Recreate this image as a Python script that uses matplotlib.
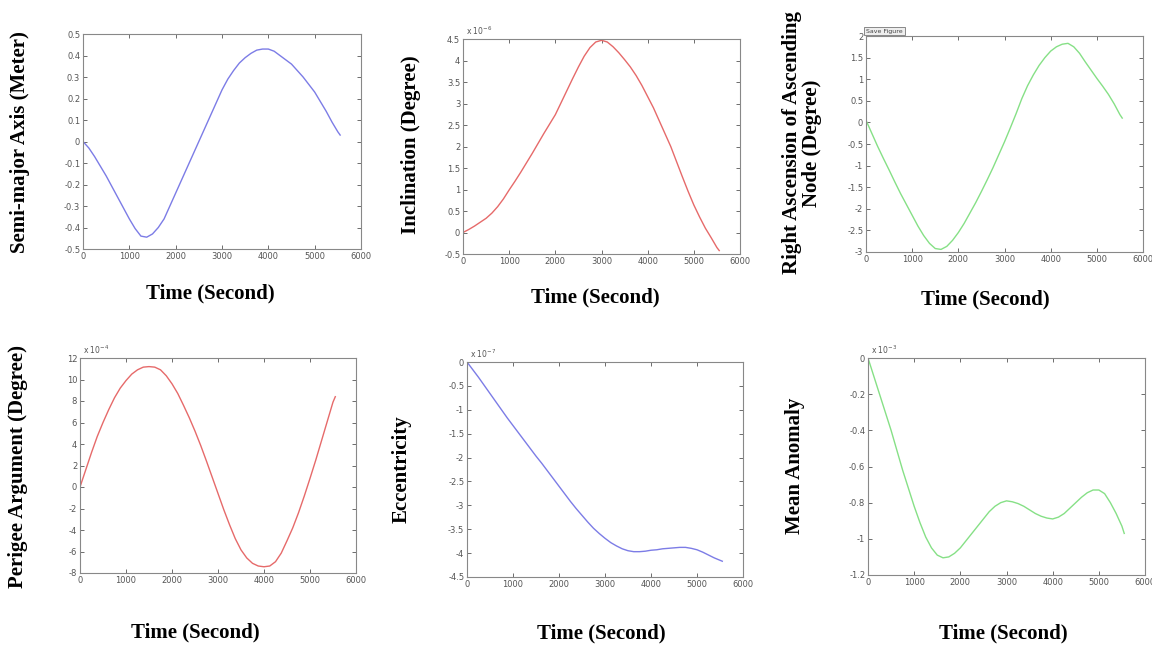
import matplotlib.pyplot as plt
from matplotlib.ticker import FuncFormatter

# time samples (s)
t = [0, 125, 250, 375, 500, 625, 750, 875, 1000, 1125, 1250, 1375, 1500, 1625, 1750, 1875,
     2000, 2125, 2250, 2375, 2500, 2625, 2750, 2875, 3000, 3125, 3250, 3375, 3500, 3625,
     3750, 3875, 4000, 4125, 4250, 4375, 4500, 4625, 4750, 4875, 5000, 5125, 5250, 5375,
     5500, 5550]

# values (already divided by the axis exponent)
semi_major = [0.0, -0.03, -0.07, -0.115, -0.16, -0.21, -0.26, -0.31, -0.36, -0.405, -0.44,
              -0.445, -0.43, -0.40, -0.36, -0.30, -0.24, -0.18, -0.12, -0.06, 0.0, 0.06,
              0.12, 0.18, 0.24, 0.29, 0.33, 0.365, 0.39, 0.41, 0.425, 0.43, 0.43, 0.42,
              0.40, 0.38, 0.36, 0.33, 0.30, 0.265, 0.23, 0.185, 0.14, 0.09, 0.045, 0.03]
inclination = [0.0, 0.07, 0.15, 0.24, 0.33, 0.45, 0.6, 0.78, 0.99, 1.19, 1.4, 1.62, 1.84,
               2.07, 2.3, 2.52, 2.74, 3.02, 3.3, 3.58, 3.85, 4.1, 4.3, 4.43, 4.47, 4.43,
               4.32, 4.18, 4.02, 3.85, 3.65, 3.42, 3.16, 2.9, 2.6, 2.3, 2.0, 1.65, 1.3,
               0.96, 0.64, 0.36, 0.1, -0.12, -0.35, -0.42]
raan = [0.05, -0.25, -0.55, -0.83, -1.1, -1.38, -1.65, -1.9, -2.15, -2.4, -2.62, -2.8,
        -2.92, -2.94, -2.87, -2.73, -2.55, -2.34, -2.1, -1.86, -1.6, -1.33, -1.05, -0.75,
        -0.45, -0.13, 0.2, 0.55, 0.85, 1.1, 1.32, 1.5, 1.65, 1.75, 1.81, 1.83, 1.75, 1.6,
        1.4, 1.21, 1.02, 0.84, 0.65, 0.43, 0.18, 0.1]
perigee = [0.0, 1.6, 3.2, 4.7, 6.0, 7.2, 8.3, 9.2, 9.9, 10.5, 10.9, 11.15, 11.2, 11.15,
           10.9, 10.35, 9.6, 8.7, 7.6, 6.45, 5.2, 3.85, 2.4, 0.9, -0.6, -2.1, -3.5, -4.8,
           -5.85, -6.6, -7.1, -7.35, -7.42, -7.35, -6.95, -6.15, -5.0, -3.8, -2.4, -0.85,
           0.8, 2.5, 4.3, 6.1, 7.9, 8.4]
eccentricity = [0.0, -0.16, -0.32, -0.49, -0.66, -0.83, -1.0, -1.17, -1.33, -1.49, -1.65,
                -1.81, -1.97, -2.12, -2.28, -2.44, -2.6, -2.76, -2.92, -3.07, -3.21, -3.35,
                -3.48, -3.59, -3.69, -3.78, -3.85, -3.91, -3.95, -3.97, -3.97, -3.96, -3.94,
                -3.93, -3.91, -3.9, -3.89, -3.88, -3.88, -3.9, -3.93, -3.98, -4.04, -4.1,
                -4.15, -4.17]
mean_anomaly = [0.0, -0.1, -0.2, -0.3, -0.4, -0.51, -0.62, -0.72, -0.82, -0.91, -0.99,
                -1.05, -1.09, -1.105, -1.1, -1.08, -1.05, -1.01, -0.97, -0.93, -0.89, -0.85,
                -0.82, -0.8, -0.79, -0.795, -0.805, -0.82, -0.84, -0.86, -0.875, -0.885,
                -0.89, -0.88, -0.86, -0.83, -0.8, -0.77, -0.745, -0.73, -0.73, -0.75, -0.8,
                -0.86, -0.93, -0.97]

W, H = 1152, 645
fig = plt.figure(figsize=(W / 100, H / 100), dpi=100)

blue = '#7c7ce6'
red = '#e66a6a'
green = '#86e086'
grey = '#555555'

def px_axes(l, r, top, bot):
    return fig.add_axes([l / W, 1 - bot / H, (r - l) / W, (bot - top) / H])

def style(ax, ylim, yticks, expo=None):
    ax.set_xlim(0, 6000)
    ax.set_xticks(range(0, 6001, 1000))
    ax.set_ylim(*ylim)
    ax.set_yticks(yticks)
    fmt = FuncFormatter(lambda v, p: '%g' % round(v, 6))
    ax.xaxis.set_major_formatter(fmt)
    ax.yaxis.set_major_formatter(fmt)
    ax.tick_params(direction='in', top=True, right=True, length=3, width=0.6,
                   labelsize=6, colors=grey, pad=2)
    for s in ax.spines.values():
        s.set_color('#888888')
        s.set_linewidth(0.8)
    if expo:
        ax.text(0.01, 1.01, r'x 10$^{%d}$' % expo, transform=ax.transAxes,
                fontsize=5.5, color=grey, va='bottom')

def label(x, y, s, rot=0):
    fig.text(x / W, 1 - y / H, s, ha='center', va='center', rotation=rot,
             fontsize=15, fontweight='bold', family='Liberation Serif', linespacing=1.0)

ax1 = px_axes(83, 361, 34, 249)
ax1.plot(t, semi_major, color=blue, lw=1)
style(ax1, (-0.5, 0.5), [-0.5 + 0.1 * i for i in range(11)])

ax2 = px_axes(463, 740, 39, 254)
ax2.plot(t, inclination, color=red, lw=1)
style(ax2, (-0.5, 4.5), [-0.5 + 0.5 * i for i in range(11)], -6)

ax3 = px_axes(866, 1143, 36, 252)
ax3.plot(t, raan, color=green, lw=1)
style(ax3, (-3, 2), [-3 + 0.5 * i for i in range(11)])

ax4 = px_axes(80, 356, 358, 573)
ax4.plot(t, perigee, color=red, lw=1)
style(ax4, (-8, 12), list(range(-8, 13, 2)), -4)

ax5 = px_axes(467, 743, 362, 577)
ax5.plot(t, eccentricity, color=blue, lw=1)
style(ax5, (-4.5, 0), [-4.5 + 0.5 * i for i in range(10)], -7)

ax6 = px_axes(868, 1145, 358, 575)
ax6.plot(t, mean_anomaly, color=green, lw=1)
style(ax6, (-1.2, 0), [-1.2 + 0.2 * i for i in range(7)], -3)

# MATLAB button left in the screenshot
fig.text(866 / W, 1 - 31 / H, 'Save Figure', fontsize=4.5, color='#444444', va='center',
         bbox=dict(boxstyle='square,pad=0.3', fc='#eeeeee', ec='#777777', lw=0.6))

# y labels
label(20, 142, 'Semi-major Axis (Meter)', 90)
label(411, 145, 'Inclination (Degree)', 90)
label(802, 143, 'Right Ascension of Ascending\nNode (Degree)', 90)
label(18, 466, 'Perigee Argument (Degree)', 90)
label(402, 469, 'Eccentricity', 90)
label(795, 466, 'Mean Anomaly', 90)

# x labels
label(210, 293, 'Time (Second)')
label(595, 297, 'Time (Second)')
label(985, 299, 'Time (Second)')
label(195, 632, 'Time (Second)')
label(601, 633, 'Time (Second)')
label(1003, 633, 'Time (Second)')

fig.savefig('out.png', dpi=100, facecolor='white')
